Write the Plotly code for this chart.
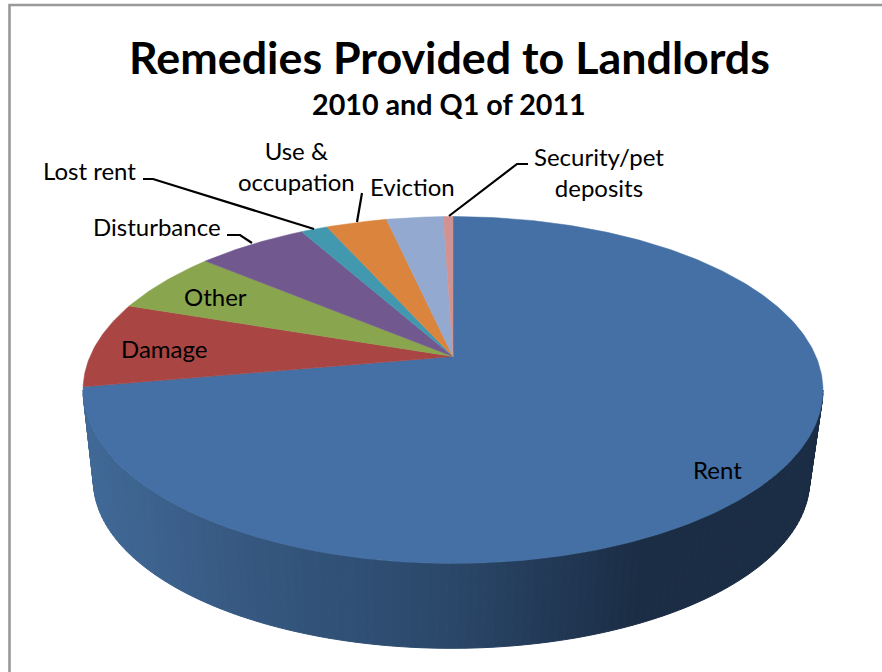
import numpy as np
import plotly.graph_objects as go

categories = ["Rent", "Damage", "Other", "Disturbance", "Lost rent", "Use & occupation", "Eviction", "Security/pet deposits"]
shares = [72.2, 8.0, 5.9, 5.8, 1.4, 3.2, 3.0, 0.5]
colors = ["#4470A5", "#A94543", "#89A54E", "#71588F", "#4198AF", "#DB843D", "#93A9CF", "#D19392"]

# Wall shading: page x -> colour stops of the gradient on the pie's side
wall_x = [85, 250, 450, 640, 825]
wall_rgb = [(66, 106, 152), (54, 88, 128), (43, 72, 106), (27, 45, 69), (27, 46, 70)]

# Perspective projection of the pie disc on to the page
CX, CY, SX, SY, K = 453, 356.5, 363, 167, 0.193
WALL_SCALE, WALL_DY, WALL_DX = 0.968, 91.5, -1.5


def project(theta, scale=1.0, dx=0.0, dy=0.0):
    a = np.radians(theta)
    X, Y = np.sin(a), np.cos(a)
    w = 1 + K * Y
    return CX + dx + scale * SX * X / w, CY + dy - scale * SY * Y / w


fig = go.Figure()

total = sum(shares)
edges = np.concatenate([[0], np.cumsum(shares)]) / total * 360

# Side wall of the first slice, as thin shaded strips
wall_start = np.degrees(np.arccos(-K))
wall_end = min(edges[1], 360 - wall_start)
steps = np.linspace(wall_start, wall_end, 130)
for t0, t1 in zip(steps[:-1], steps[1:]):
    tt = np.array([t0, t1])
    xa, ya = project(tt)
    xb, yb = project(tt[::-1], WALL_SCALE, WALL_DX, WALL_DY)
    xm = (xa.mean() + xb.mean()) / 2
    rgb = [np.interp(xm, wall_x, [c[i] for c in wall_rgb]) for i in range(3)]
    col = "rgb(%d,%d,%d)" % tuple(rgb)
    fig.add_trace(go.Scatter(
        x=np.r_[xa, xb, xa[0]], y=np.r_[ya, yb, ya[0]], mode="lines",
        fill="toself", fillcolor=col, line=dict(color=col, width=1),
        hoverinfo="skip", showlegend=False))

# Top face slices
for i, name in enumerate(categories):
    n = max(4, int((edges[i + 1] - edges[i]) * 1.5))
    tt = np.linspace(edges[i], edges[i + 1], n)
    xs, ys = project(tt)
    fig.add_trace(go.Scatter(
        x=np.r_[CX, xs, CX], y=np.r_[CY, ys, CY], mode="lines", name=name,
        fill="toself", fillcolor=colors[i], line=dict(color=colors[i], width=0.5),
        hoverinfo="name", showlegend=False))

FONT = "Lato, Carlito, Calibri, sans-serif"


def label(x, y, text, size=24, bold=False):
    return dict(x=x, y=y, xref="x", yref="y", text="<b>%s</b>" % text if bold else text,
                showarrow=False, xanchor="center", yanchor="middle", align="center",
                font=dict(family=FONT, size=size, color="#000000"))


annotations = [
    label(449, 57, "Remedies Provided to Landlords", 44.8, True),
    label(449, 104, "2010 and Q1 of 2011", 28.7, True),
    label(717, 469, "Rent"),
    label(164, 348, "Damage"),
    label(215, 296, "Other"),
    label(157, 226, "Disturbance"),
    label(89, 170, "Lost rent"),
    label(296, 166, "Use &<br>occupation"),
    label(412, 186, "Eviction"),
    label(599, 172, "Security/pet<br>deposits"),
]


def leader(path):
    return dict(type="path", path=path, xref="x", yref="y", line=dict(color="#000000", width=2.2))


shapes = [
    dict(type="path", path="M 9.5 672 L 9.5 5 L 882 5", xref="x", yref="y", line=dict(color="#999999", width=2.6)),
    leader("M 143 179 L 153 179 L 314 229"),
    leader("M 227 235 L 240 235 L 252 243"),
    leader("M 362 193 L 357 222"),
    leader("M 528 164 L 517 164 L 449 216"),
]

axis = dict(visible=False, showgrid=False, zeroline=False, fixedrange=True)
fig.update_layout(
    width=882, height=672, margin=dict(l=0, r=0, t=0, b=0),
    paper_bgcolor="#FFFFFF", plot_bgcolor="#FFFFFF", showlegend=False,
    xaxis=dict(range=[0, 882], domain=[0, 1], **axis),
    yaxis=dict(range=[672, 0], domain=[0, 1], **axis),
    annotations=annotations, shapes=shapes,
)

fig.write_html("out.html", config={"displayModeBar": False},
               post_script="document.body.style.margin='0';document.body.style.overflow='hidden';")
